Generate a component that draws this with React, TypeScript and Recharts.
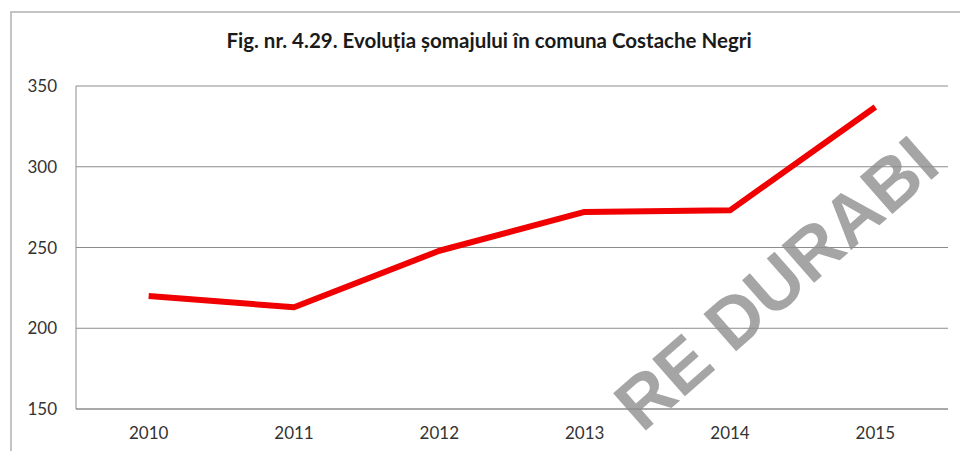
import React from "react";
import { LineChart, Line, XAxis, YAxis, CartesianGrid, Customized } from "recharts";

const years: string[] = ["2010", "2011", "2012", "2013", "2014", "2015"];
const unemployed: number[] = [220, 213, 248, 272, 273, 337];
const yTicks: number[] = [150, 200, 250, 300, 350];
const title = "Fig. nr. 4.29. Evoluția șomajului în comuna Costache Negri";
const watermark = "RE DURABI";

const data = years.map((y, i) => ({ year: y, value: unemployed[i] }));

const FONT = "Lato, 'Open Sans', sans-serif";

const Watermark = () => (
  <text
    x={776}
    y={283}
    transform="rotate(-41.3 776 283)"
    textAnchor="middle"
    dominantBaseline="central"
    fontFamily="'Liberation Sans', Arial, sans-serif"
    fontWeight="bold"
    fontSize={72}
    fill="#8f8f8f"
    fillOpacity={0.8}
  >
    {watermark}
  </text>
);

export default function App() {
  return (
    <div style={{ position: "absolute", left: 0, top: 0, width: 960, height: 451, background: "#fff", overflow: "hidden" }}>
      <div
        style={{
          position: "absolute",
          left: 10,
          top: 11,
          width: 980,
          height: 480,
          borderLeft: "2px solid #c4c4c4",
          borderTop: "2px solid #c4c4c4",
          boxSizing: "border-box",
        }}
      />
      <div
        style={{
          position: "absolute",
          left: 0,
          top: 28,
          width: 978,
          textAlign: "center",
          fontFamily: FONT,
          fontWeight: 700,
          fontSize: 20.5,
          color: "#1a1a1a",
          lineHeight: "24px",
        }}
      >
        {title}
      </div>
      <div style={{ position: "absolute", left: 0, top: 0 }}>
        <LineChart width={960} height={451} data={data} margin={{ top: 86, right: 12, bottom: 0, left: 0 }}>
          <CartesianGrid horizontal={true} vertical={false} stroke="#8c8c8c" strokeWidth={1} />
          <XAxis
            dataKey="year"
            scale="band"
            height={42}
            axisLine={{ stroke: "#8c8c8c" }}
            tickLine={false}
            tickSize={0}
            tickMargin={18}
            tick={{ fill: "#333", fontSize: 17, fontFamily: FONT }}
            interval={0}
          />
          <YAxis
            domain={[150, 350]}
            ticks={yTicks}
            width={76}
            axisLine={{ stroke: "#8c8c8c" }}
            tickLine={false}
            tickSize={0}
            tickMargin={19}
            tick={{ fill: "#333", fontSize: 17, fontFamily: FONT }}
            interval={0}
          />
          <Line
            type="linear"
            dataKey="value"
            stroke="#f00000"
            strokeWidth={6}
            dot={false}
            activeDot={false}
            strokeLinejoin="round"
            isAnimationActive={false}
          />
          <Customized component={Watermark} />
        </LineChart>
      </div>
    </div>
  );
}
